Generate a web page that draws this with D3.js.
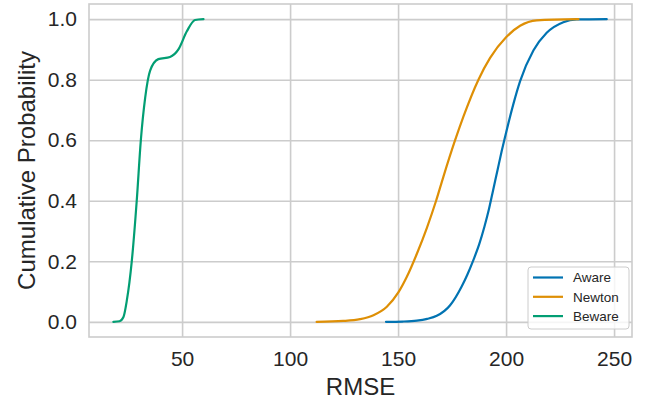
<!DOCTYPE html>
<html>
<head>
<meta charset="utf-8">
<script src="https://cdn.jsdelivr.net/npm/d3@7"></script>
<style>
  html, body { margin: 0; padding: 0; background: #fff; }
  svg { display: block; font-family: "Liberation Sans", Arial, sans-serif; }
</style>
</head>
<body>
<svg id="chart" width="646" height="402"></svg>
<script>
// ---- data ----
const seriesNames = ["Aware", "Newton", "Beware"];
const seriesColors = ["#0173b2", "#de8f05", "#029e73"];

const awareX = [144.4, 152.0, 158.7, 163.5, 167.9, 174.1, 179.5, 182.0, 184.9, 187.5, 190.0, 192.0, 194.0, 196.0, 198.0, 200.0, 203.4, 206.5, 212.7, 218.8, 226.5, 232.7, 246.6];
const awareP = [0, 0.001, 0.004, 0.01, 0.02, 0.055, 0.118, 0.155, 0.205, 0.255, 0.315, 0.37, 0.435, 0.50, 0.565, 0.625, 0.72, 0.795, 0.897, 0.955, 0.99, 0.999, 1.0];

const newtonX = [112.3, 124.6, 132.4, 138.6, 144.8, 150.2, 154.0, 158.7, 163.3, 167.6, 171.0, 176.4, 180.2, 187.2, 192.6, 200.0, 206.5, 214.2, 233.5];
const newtonP = [0, 0.003, 0.009, 0.022, 0.05, 0.098, 0.148, 0.225, 0.31, 0.40, 0.48, 0.60, 0.677, 0.80, 0.872, 0.94, 0.978, 0.996, 1.0];

const bewareX = [18.2, 21.0, 22.8, 24.4, 26.7, 29.0, 30.9, 32.9, 35.2, 39.0, 44.4, 48.3, 52.2, 56.0, 59.9];
const bewareP = [0, 0.002, 0.015, 0.07, 0.2, 0.4, 0.6, 0.74, 0.83, 0.868, 0.875, 0.9, 0.96, 0.997, 1.0];

const xTicks = [50, 100, 150, 200, 250];
const yTicks = [0.0, 0.2, 0.4, 0.6, 0.8, 1.0];
const xLabel = "RMSE";
const yLabel = "Cumulative Probability";

// ---- layout ----
const W = 646, H = 402;
const m = { left: 89, right: 14, top: 4, bottom: 65 };
const svg = d3.select("#chart");
const textColor = "#262626";
const gridColor = "#cccccc";

const x = d3.scaleLinear().domain([6.9, 258.3]).range([m.left, W - m.right]);
const y = d3.scaleLinear().domain([-0.05, 1.05]).range([H - m.bottom, m.top]);

// grid
const xAxis = d3.axisBottom(x).tickValues(xTicks).tickSize(-(H - m.bottom - m.top)).tickPadding(14).tickFormat(d3.format("d"));
const yAxis = d3.axisLeft(y).tickValues(yTicks).tickSize(-(W - m.left - m.right)).tickPadding(12).tickFormat(d3.format(".1f"));

const gx = svg.append("g").attr("transform", `translate(0,${H - m.bottom})`).call(xAxis);
const gy = svg.append("g").attr("transform", `translate(${m.left},0)`).call(yAxis);
[gx, gy].forEach(g => {
  g.select(".domain").remove();
  g.selectAll(".tick line").attr("stroke", gridColor).attr("stroke-width", 1.6);
  g.selectAll(".tick text").attr("fill", textColor).attr("font-size", 21)
    .attr("font-family", "'Liberation Sans', Arial, sans-serif");
});

// frame
svg.append("rect")
  .attr("x", m.left).attr("y", m.top)
  .attr("width", W - m.left - m.right).attr("height", H - m.bottom - m.top)
  .attr("fill", "none").attr("stroke", gridColor).attr("stroke-width", 1.6);

// lines
const series = [
  { name: seriesNames[0], color: seriesColors[0], xs: awareX, ps: awareP },
  { name: seriesNames[1], color: seriesColors[1], xs: newtonX, ps: newtonP },
  { name: seriesNames[2], color: seriesColors[2], xs: bewareX, ps: bewareP }
];
const line = d3.line().x(d => x(d[0])).y(d => y(d[1])).curve(d3.curveMonotoneX);
series.forEach(s => {
  svg.append("path")
    .datum(s.xs.map((v, i) => [v, s.ps[i]]))
    .attr("d", line)
    .attr("fill", "none")
    .attr("stroke", s.color)
    .attr("stroke-width", 2.2)
    .attr("stroke-linecap", "round");
});

// axis labels
svg.append("text")
  .attr("x", (m.left + W - m.right) / 2).attr("y", 395)
  .attr("text-anchor", "middle").attr("fill", textColor).attr("font-size", 24)
  .text(xLabel);
svg.append("text")
  .attr("transform", `translate(35,${(m.top + H - m.bottom) / 2}) rotate(-90)`)
  .attr("text-anchor", "middle").attr("fill", textColor).attr("font-size", 24)
  .text(yLabel);

// legend
const lg = svg.append("g").attr("transform", "translate(528,267)");
lg.append("rect").attr("width", 101).attr("height", 62).attr("rx", 3)
  .attr("fill", "white").attr("fill-opacity", 0.8)
  .attr("stroke", gridColor).attr("stroke-width", 1);
series.forEach((s, i) => {
  const yy = 10.5 + i * 19.3;
  lg.append("line").attr("x1", 5).attr("x2", 35).attr("y1", yy).attr("y2", yy)
    .attr("stroke", s.color).attr("stroke-width", 2.2);
  lg.append("text").attr("x", 45).attr("y", yy).attr("dy", "0.35em")
    .attr("font-size", 13.5).attr("fill", textColor).text(s.name);
});
</script>
</body>
</html>
